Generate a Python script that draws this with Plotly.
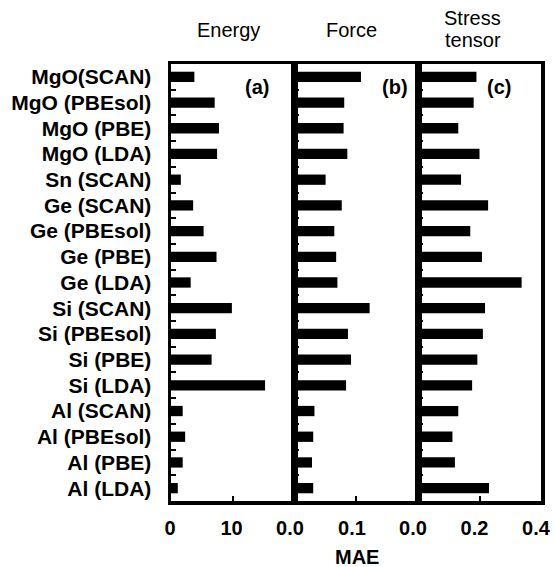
import plotly.graph_objects as go

labels = ["MgO(SCAN)", "MgO (PBEsol)", "MgO (PBE)", "MgO (LDA)", "Sn (SCAN)",
          "Ge (SCAN)", "Ge (PBEsol)", "Ge (PBE)", "Ge (LDA)",
          "Si (SCAN)", "Si (PBEsol)", "Si (PBE)", "Si (LDA)",
          "Al (SCAN)", "Al (PBEsol)", "Al (PBE)", "Al (LDA)"]

energy = [3.8, 7.1, 7.8, 7.5, 1.6, 3.6, 5.3, 7.4, 3.2, 9.9, 7.3, 6.6, 15.3, 1.9, 2.3, 1.9, 1.1]
force = [0.108, 0.081, 0.080, 0.086, 0.051, 0.077, 0.065, 0.068, 0.070, 0.122, 0.087, 0.092, 0.084,
         0.033, 0.031, 0.029, 0.031]
stress = [0.190, 0.181, 0.131, 0.200, 0.140, 0.228, 0.170, 0.208, 0.337, 0.218, 0.211, 0.193, 0.176,
          0.131, 0.112, 0.120, 0.231]

panel_titles = ["Energy", "Force", "Stress<br>tensor"]
panel_tags = ["(a)", "(b)", "(c)"]
x_ranges = [[0, 20], [0, 0.2], [0, 0.4]]
x_tickvals = [[0, 10], [0, 0.1], [0, 0.2, 0.4]]
x_ticktext = [["0", "10"], ["0.0", "0.1"], ["0.0", "0.2", "0.4"]]
x_title = "MAE"

W, H = 554, 567
FONT = "Liberation Sans"


def px(v):
    return v / W


def py(v):
    return 1 - v / H


domains_px = [(171, 294), (294, 418), (418, 541)]
label_shift = [-1, -4, -5]
ydom = [py(501), py(64)]

fig = go.Figure()
series = [energy, force, stress]
for i, vals in enumerate(series):
    sfx = "" if i == 0 else str(i + 1)
    fig.add_trace(go.Bar(x=vals, y=labels, orientation="h", width=0.4,
                         marker=dict(color="black", line=dict(width=0)),
                         xaxis="x" + sfx, yaxis="y" + sfx, showlegend=False,
                         hoverinfo="skip"))

layout = dict(width=W, height=H, margin=dict(l=0, r=0, t=0, b=0),
              template="none", plot_bgcolor="white", paper_bgcolor="white",
              font=dict(family=FONT, color="black", size=20))

for i in range(3):
    sfx = "" if i == 0 else str(i + 1)
    d0, d1 = domains_px[i]
    layout["xaxis" + sfx] = dict(
        domain=[px(d0), px(d1)], anchor="y" + sfx, range=x_ranges[i],
        tickmode="array", tickvals=x_tickvals[i], ticktext=x_ticktext[i],
        ticks="inside", ticklen=5, tickwidth=2, tickcolor="black",
        showline=True, linewidth=3.5, linecolor="black", mirror=True,
        showgrid=False, zeroline=False, automargin=False,
        tickfont=dict(family=FONT, size=20, color="black", weight="bold"),
        ticklabelstandoff=6, ticklabelshift=label_shift[i], ticklabeloverflow="allow")
    layout["yaxis" + sfx] = dict(
        domain=ydom, anchor="x" + sfx, type="category",
        categoryorder="array", categoryarray=labels, autorange="reversed",
        tickson="boundaries", ticks="inside", ticklen=5, tickwidth=2, tickcolor="black",
        showline=True, linewidth=3.5, linecolor="black", mirror=True,
        showgrid=False, zeroline=False, automargin=False,
        showticklabels=(i == 0), ticklabeloverflow="allow",
        tickfont=dict(family=FONT, size=21, color="black", weight="bold"),
        ticklabelstandoff=12)
    if i > 0:
        layout["yaxis" + sfx]["matches"] = "y"

fig.update_layout(**layout)

title_x = [228, 351, 472.5]
tag_x = [257, 395, 499]
for i in range(3):
    lines = panel_titles[i].split("<br>")
    ys = [30] if len(lines) == 1 else [18, 40]
    for line, yy in zip(lines, ys):
        fig.add_annotation(text=line, x=px(title_x[i]), y=py(yy),
                           xref="paper", yref="paper", showarrow=False,
                           font=dict(family=FONT, size=20, color="black"),
                           xanchor="center", yanchor="middle")
    fig.add_annotation(text="<b>" + panel_tags[i] + "</b>", x=px(tag_x[i]), y=py(87),
                       xref="paper", yref="paper", showarrow=False,
                       font=dict(family=FONT, size=20, color="black"),
                       xanchor="center", yanchor="middle")

fig.add_annotation(text="<b>" + x_title + "</b>", x=px(357), y=py(557),
                   xref="paper", yref="paper", showarrow=False,
                   font=dict(family=FONT, size=20, color="black"),
                   xanchor="center", yanchor="middle")

fig.write_html("out.html",
               config={"displayModeBar": False, "staticPlot": True},
               post_script="document.body.style.margin='0px';document.body.style.overflow='hidden';")
